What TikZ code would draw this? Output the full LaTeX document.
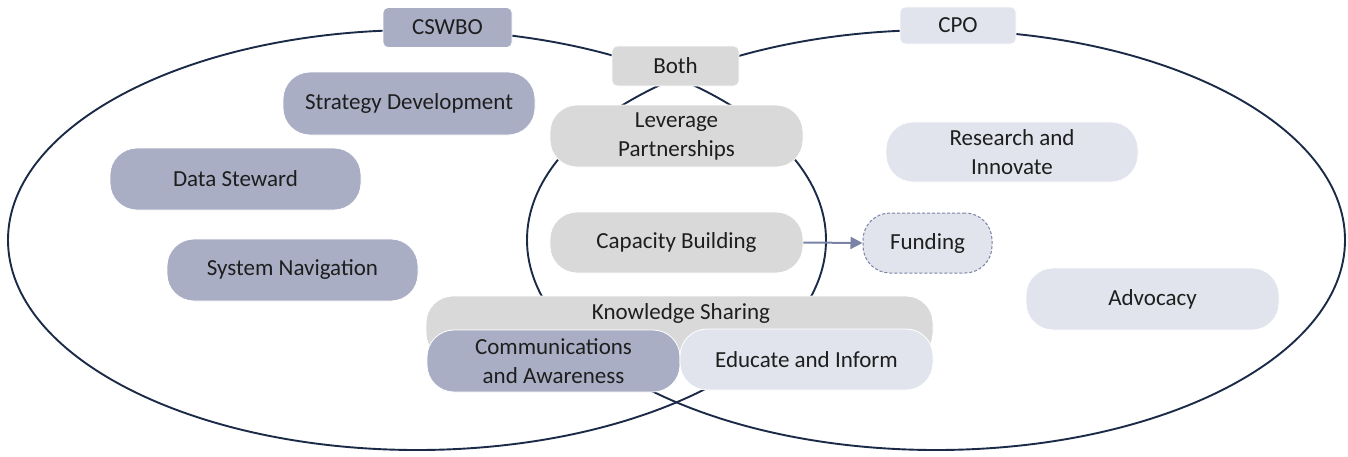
\documentclass[tikz,border=0pt]{standalone}
\usepackage{fontspec}
\setmainfont{Carlito}
\usetikzlibrary{shapes.geometric,arrows.meta}
\definecolor{ringline}{HTML}{1B2A47}
\definecolor{darkfill}{HTML}{A9AEC5}
\definecolor{grayfill}{HTML}{D9D9D9}
\definecolor{lightfill}{HTML}{E1E4EC}
\definecolor{txt}{HTML}{1E1E1E}
\definecolor{arrowcol}{HTML}{7A82A6}
\tikzset{
  x=1pt, y=-1pt,
  ring/.style={draw=ringline, line width=1.9pt, ellipse, minimum width=818pt, minimum height=420pt, inner sep=0pt},
  pill/.style={rectangle, rounded corners=27pt, draw=white, line width=0.8pt, text=txt,
    font=\fontsize{23}{29}\selectfont, align=center, inner sep=0pt},
  tag/.style={rectangle, rounded corners=5pt, draw=white, line width=0.8pt, text=txt,
    font=\fontsize{23}{29}\selectfont, inner sep=0pt},
  orgA/.style={pill, fill=darkfill},
  both/.style={pill, fill=grayfill},
  orgB/.style={pill, fill=lightfill},
}
\begin{document}
\begin{tikzpicture}
\useasboundingbox (0,0) rectangle (1348,456);

% the two overlapping ovals
\node[ring] (left) at (417,240) {};
\node[ring] (right) at (936,240) {};

% headings
\node[tag, fill=darkfill, minimum width=129pt, minimum height=40pt] (cswbo) at (447.5,27.5) {CSWBO};
\node[tag, fill=lightfill, minimum width=116pt, minimum height=37pt] (cpo) at (958,25.5) {CPO};
\node[tag, fill=grayfill, minimum width=127pt, minimum height=40pt] (both) at (675.5,66) {Both};

% CSWBO only
\node[orgA, minimum width=252pt, minimum height=63pt] (strat) at (409,103.5) {Strategy Development};
\node[orgA, minimum width=251pt, minimum height=62pt] (data) at (235.5,179) {Data Steward};
\node[orgA, minimum width=251pt, minimum height=62pt] (nav) at (292.5,270) {System Navigation};

% shared
\node[both, minimum width=253pt, minimum height=62pt] (lev) at (676.5,136) {Leverage\\Partnerships};
\node[both, minimum width=253pt, minimum height=61pt] (cap) at (676.5,242.5) {Capacity Building};
\node[both, minimum width=507pt, minimum height=64pt] (ks) at (679.5,328) {};
\node[text=txt, font=\fontsize{23}{29}\selectfont, inner sep=0pt] (kst) at (681,313) {Knowledge Sharing};
\node[orgA, minimum width=253pt, minimum height=62pt] (comm) at (553.5,361) {Communications\\and Awareness};
\node[orgB, minimum width=253pt, minimum height=61pt] (edu) at (806.5,359.5) {Educate and Inform};

% CPO only
\node[orgB, minimum width=252pt, minimum height=60pt] (res) at (1012,152) {Research and\\Innovate};
\node[orgB, minimum width=253pt, minimum height=62pt] (adv) at (1152.5,299) {Advocacy};
\node[pill, fill=lightfill, draw=arrowcol, line width=1pt, dash pattern=on 3pt off 2pt,
      minimum width=129pt, minimum height=60pt] (fund) at (927.5,243) {Funding};

\draw[arrowcol, line width=2pt, -{Triangle[length=12pt, width=12pt]}] (cap.east) -- (fund.west);
\end{tikzpicture}
\end{document}
